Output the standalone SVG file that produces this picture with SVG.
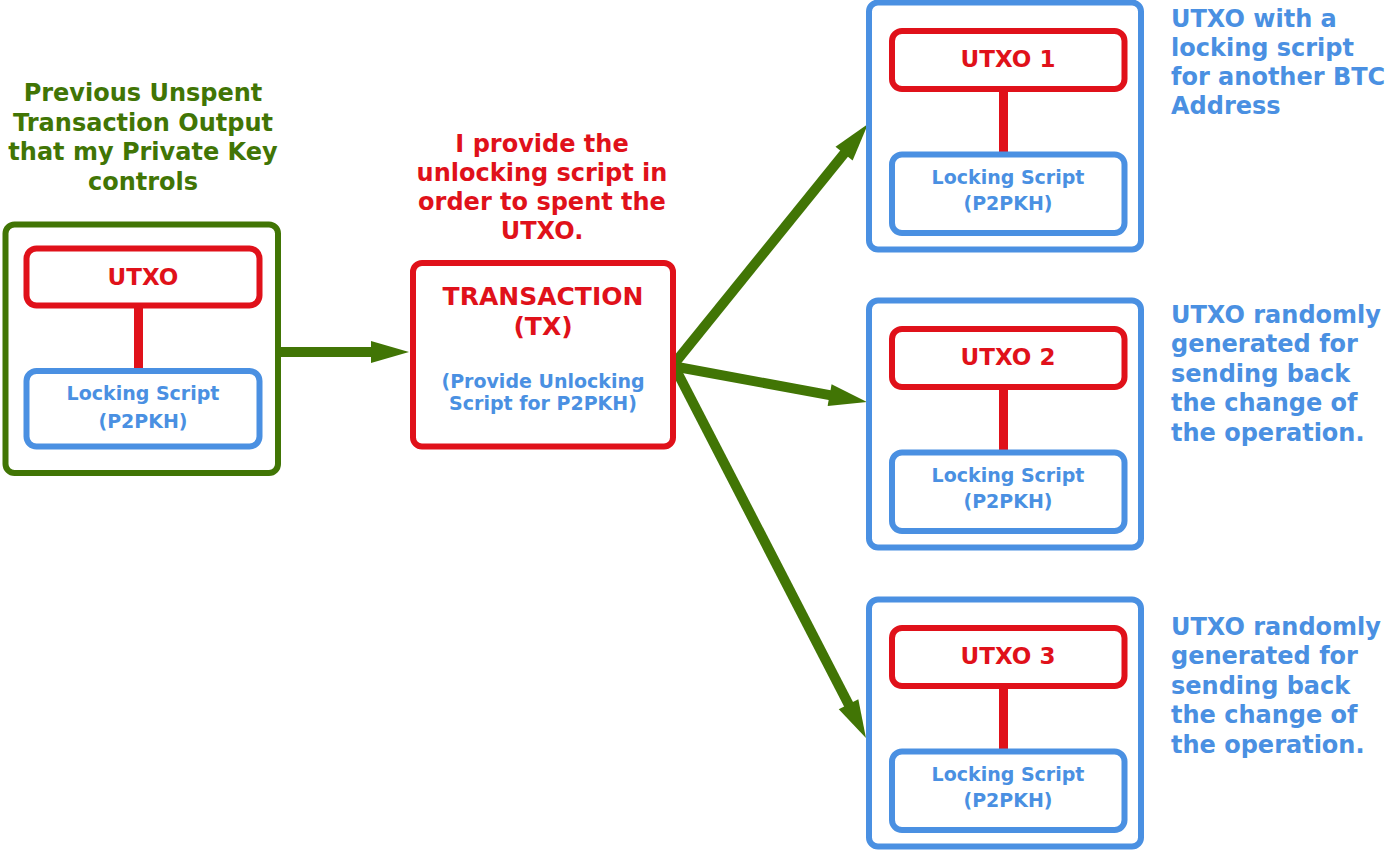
<svg xmlns="http://www.w3.org/2000/svg" width="1400" height="851" viewBox="0 0 1400 851">
<style>
text{font-family:"DejaVu Sans",Verdana,sans-serif;font-weight:bold}
.h{font-size:24px}
.u{font-size:23px;fill:#E0111A;text-anchor:middle}
.s{font-size:19px;fill:#4A90E2;text-anchor:middle}
.g{fill:#417505;text-anchor:middle}
.r{fill:#E0111A;text-anchor:middle}
.b{fill:#4A90E2}
.og{fill:#fff;stroke:#417505;stroke-width:6}
.ob{fill:#fff;stroke:#4A90E2;stroke-width:6}
.rb{fill:#fff;stroke:#E0111A;stroke-width:6}
.bb{fill:#fff;stroke:#4A90E2;stroke-width:6}
.ln{stroke:#E0111A;stroke-width:9}
.ar{stroke:#417505;stroke-width:10;fill:none;marker-end:url(#ah)}
</style>
<defs>
<marker id="ah" markerUnits="userSpaceOnUse" markerWidth="40" markerHeight="24" refX="18" refY="11" orient="auto" overflow="visible">
<path d="M0,0 L38,11 L0,22 z" fill="#417505"/>
</marker>
</defs>
<rect width="1400" height="851" fill="#fff"/>

<g id="title-prev">
<text class="h g" x="143" y="100.5">Previous Unspent</text>
<text class="h g" x="143" y="130.5">Transaction Output</text>
<text class="h g" x="143" y="160">that my Private Key</text>
<text class="h g" x="143" y="189.5">controls</text>
</g>

<g id="title-tx">
<text class="h r" x="542" y="151.5">I provide the</text>
<text class="h r" x="542" y="180.5">unlocking script in</text>
<text class="h r" x="542" y="209.5">order to spent the</text>
<text class="h r" x="542" y="238.5">UTXO.</text>
</g>

<g id="note-1">
<text class="h b" x="1171" y="27">UTXO with a</text>
<text class="h b" x="1171" y="56">locking script</text>
<text class="h b" x="1171" y="84.5">for another BTC</text>
<text class="h b" x="1171" y="113.5">Address</text>
</g>
<g id="note-2">
<text class="h b" x="1171" y="322.5">UTXO randomly</text>
<text class="h b" x="1171" y="352">generated for</text>
<text class="h b" x="1171" y="381.5">sending back</text>
<text class="h b" x="1171" y="411">the change of</text>
<text class="h b" x="1171" y="440.5">the operation.</text>
</g>
<g id="note-3">
<text class="h b" x="1171" y="634.5">UTXO randomly</text>
<text class="h b" x="1171" y="664">generated for</text>
<text class="h b" x="1171" y="693.5">sending back</text>
<text class="h b" x="1171" y="723">the change of</text>
<text class="h b" x="1171" y="752.5">the operation.</text>
</g>

<g id="connectors">
<line class="ar" x1="280" y1="352" x2="389" y2="352"/>
<line class="ar" x1="674" y1="364" x2="855.4" y2="139.6"/>
<line class="ar" x1="672" y1="366" x2="847.3" y2="398.4"/>
<line class="ar" x1="674" y1="366" x2="856.8" y2="720.2"/>
</g>

<g id="prev-utxo">
<rect class="og" x="5.5" y="224.5" width="272.5" height="248.5" rx="9"/>
<line class="ln" x1="138.5" y1="305" x2="138.5" y2="372"/>
<rect class="rb" x="26.5" y="248.5" width="233" height="57" rx="10"/>
<text class="u" x="143" y="285">UTXO</text>
<rect class="bb" x="26.5" y="371" width="233" height="75.5" rx="10"/>
<text class="s" x="143" y="400">Locking Script</text>
<text class="s" x="143" y="428">(P2PKH)</text>
</g>

<g id="transaction">
<rect class="rb" x="413" y="263" width="260" height="183.5" rx="9"/>
<text class="h r" x="543" y="305" style="font-size:25px">TRANSACTION</text>
<text class="h r" x="543" y="335" style="font-size:25px">(TX)</text>
<text class="s" x="543" y="388">(Provide Unlocking</text>
<text class="s" x="543" y="410">Script for P2PKH)</text>
</g>

<g id="utxo-1">
<rect class="ob" x="869" y="2.5" width="272" height="247" rx="9"/>
<line class="ln" x1="1003.5" y1="88" x2="1003.5" y2="156"/>
<rect class="rb" x="892" y="31" width="232.5" height="58" rx="10"/>
<text class="u" x="1008" y="67">UTXO 1</text>
<rect class="bb" x="892" y="154.5" width="232.5" height="78.5" rx="10"/>
<text class="s" x="1008" y="183.5">Locking Script</text>
<text class="s" x="1008" y="210">(P2PKH)</text>
</g>

<g id="utxo-2">
<rect class="ob" x="869" y="300.5" width="272" height="247" rx="9"/>
<line class="ln" x1="1003.5" y1="386" x2="1003.5" y2="454"/>
<rect class="rb" x="892" y="329" width="232.5" height="58" rx="10"/>
<text class="u" x="1008" y="365">UTXO 2</text>
<rect class="bb" x="892" y="452.5" width="232.5" height="78.5" rx="10"/>
<text class="s" x="1008" y="481.5">Locking Script</text>
<text class="s" x="1008" y="508">(P2PKH)</text>
</g>

<g id="utxo-3">
<rect class="ob" x="869" y="599.5" width="272" height="247" rx="9"/>
<line class="ln" x1="1003.5" y1="685" x2="1003.5" y2="753"/>
<rect class="rb" x="892" y="628" width="232.5" height="58" rx="10"/>
<text class="u" x="1008" y="664">UTXO 3</text>
<rect class="bb" x="892" y="751.5" width="232.5" height="78.5" rx="10"/>
<text class="s" x="1008" y="780.5">Locking Script</text>
<text class="s" x="1008" y="807">(P2PKH)</text>
</g>
</svg>
